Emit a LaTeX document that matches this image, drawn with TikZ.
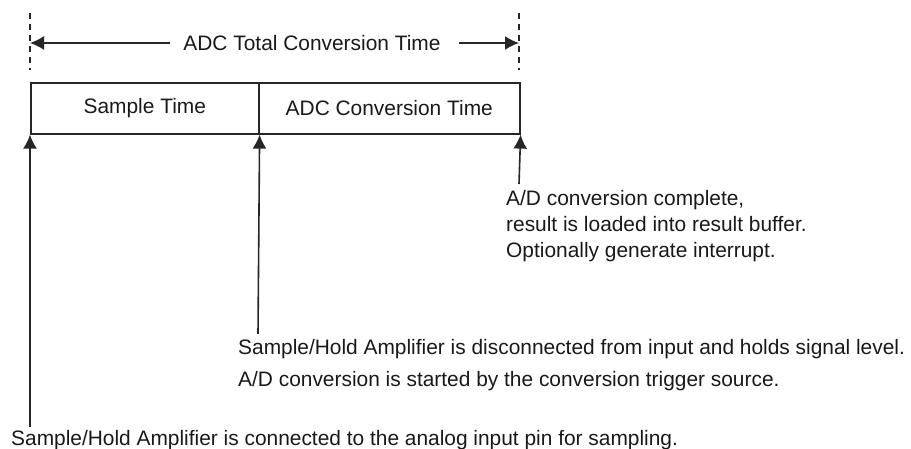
\documentclass[tikz,border=0pt]{standalone}
\usepackage{fontspec}
\setmainfont{Liberation Sans}
\usetikzlibrary{arrows.meta}
\begin{document}
\begin{tikzpicture}[x=1pt,y=-1pt,
  every node/.style={font=\fontsize{20.9}{24}\selectfont, inner sep=0pt, text=black!90},
  ln/.style={line width=1.6pt, draw=black!85},
  arr/.style={ln, -{Latex[length=14pt,width=14pt]}},
  dsh/.style={ln, dash pattern=on 6pt off 5pt},
  seg/.style={ln, minimum height=51pt, anchor=north west, inner sep=0pt},
  txt/.style={anchor=base west}]
\useasboundingbox (0,0) rectangle (911,449);
% dashed boundaries
\coordinate (dLt) at (30,13);
\coordinate (dLb) at (30,70);
\coordinate (dRt) at (519,13);
\coordinate (dRb) at (519,70);
\draw[dsh] (dLt) -- (dLb);
\draw[dsh] (dRt) -- (dRb);
% total conversion label
\node (total) at (312,43) {ADC Total Conversion Time};
\coordinate (aL) at (30,43);
\coordinate (aR) at (519,43);
\draw[arr] ([xshift=-13pt]total.west) -- (aL);
\draw[arr] ([xshift=18pt]total.east) -- (aR);
% boxes
\node[seg, minimum width=228pt] (sample) at (30,82) {};
\node[seg, minimum width=261pt] (conv) at (258,82) {};
\node (sampletxt) at (sample.center) {Sample Time};
\node (convtxt) at (conv.center) {ADC Conversion Time};
% texts
\node[txt] (c1) at (506,206) {A/D conversion complete,};
\node[txt] (c2) at (506,232) {result is loaded into result buffer.};
\node[txt] (c3) at (506,258) {Optionally generate interrupt.};
\node[txt] (h1) at (238,354) {Sample/Hold Amplifier is disconnected from input and holds signal level.};
\node[txt] (h2) at (238,386) {A/D conversion is started by the conversion trigger source.};
\node[txt] (s1) at (11,445) {Sample/Hold Amplifier is connected to the analog input pin for sampling.};
% arrows
\coordinate (pR) at (519,184);
\coordinate (pM) at (258,334);
\coordinate (pL) at (30,427);
\draw[arr] (pR) -- (conv.south east);
\draw[arr] (pM) -- (sample.south east);
\draw[arr] (pL) -- (sample.south west);
\end{tikzpicture}
\end{document}
